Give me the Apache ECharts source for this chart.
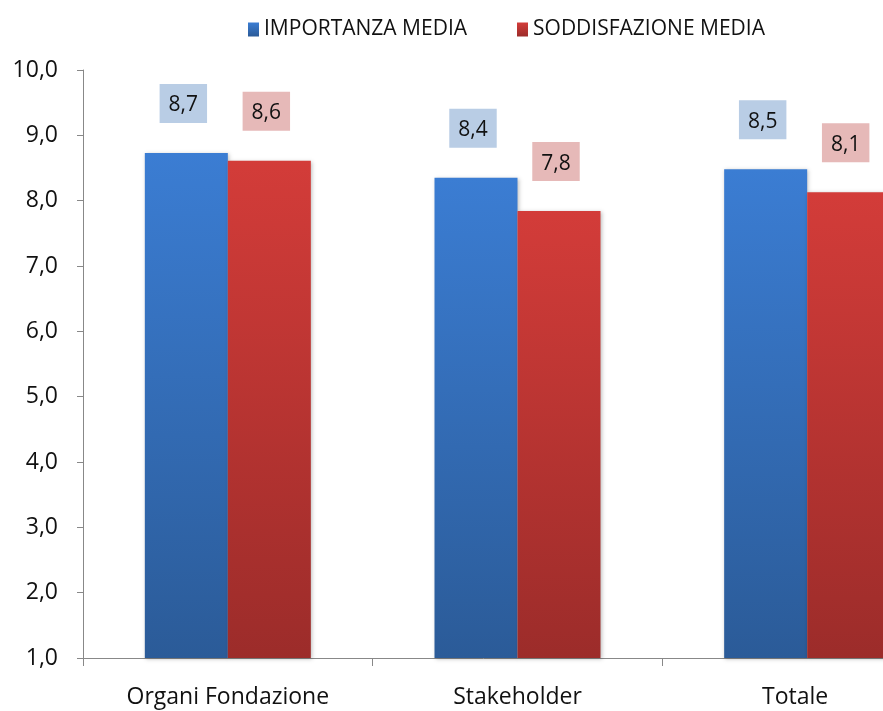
<!DOCTYPE html>
<html>
<head>
<meta charset="utf-8">
<script src="https://cdn.jsdelivr.net/npm/echarts@6/dist/echarts.min.js"></script>
<style>
  html, body { margin: 0; padding: 0; background: #fff; }
  #chart { width: 883px; height: 711px; }
</style>
</head>
<body>
<div id="chart"></div>
<script>
  var categories = ['Organi Fondazione', 'Stakeholder', 'Totale'];
  var importanza = [8.73, 8.35, 8.48];
  var soddisfazione = [8.61, 7.84, 8.13];
  var importanzaLabels = ['8,7', '8,4', '8,5'];
  var soddisfazioneLabels = ['8,6', '7,8', '8,1'];
  var yTicks = [1, 2, 3, 4, 5, 6, 7, 8, 9, 10];

  var font = '"Open Sans", "Noto Sans", sans-serif';

  function grad(top, bottom) {
    return new echarts.graphic.LinearGradient(0, 0, 0, 1, [
      { offset: 0, color: top },
      { offset: 1, color: bottom }
    ]);
  }

  function labelFor(texts, bg) {
    return {
      show: true,
      position: 'top',
      distance: 30,
      offset: [-3, 0],
      formatter: function (p) { return texts[p.dataIndex]; },
      backgroundColor: bg,
      padding: [11, 9, 7, 9],
      fontFamily: font,
      fontSize: 21,
      color: '#111'
    };
  }

  var chart = echarts.init(document.getElementById('chart'));
  chart.setOption({
    animation: false,
    legend: {
      top: 14,
      left: 243,
      itemWidth: 11,
      itemHeight: 14,
      itemGap: 50,
      icon: 'rect',
      textStyle: { fontFamily: font, fontSize: 21, color: '#111' },
      data: ['IMPORTANZA MEDIA', 'SODDISFAZIONE MEDIA']
    },
    grid: { left: 83, top: 70, height: 588, width: 869, outerBoundsMode: 'none' },
    xAxis: {
      type: 'category',
      data: categories,
      axisLine: { lineStyle: { color: '#888' } },
      axisTick: { show: true, length: 8, lineStyle: { color: '#888' } },
      axisLabel: {
        fontFamily: font, fontSize: 23, color: '#111', margin: 28,
        formatter: function (v, i) {
          // the last label is pulled back inside the clipped canvas, as in the original
          return i === categories.length - 1 ? '{last|' + v + '}' : v;
        },
        rich: { last: { fontFamily: font, fontSize: 23, color: '#111', padding: [0, 24, 0, 0] } }
      }
    },
    yAxis: {
      type: 'value',
      min: yTicks[0],
      max: yTicks[yTicks.length - 1],
      interval: 1,
      splitLine: { show: false },
      axisLine: { show: true, lineStyle: { color: '#888' } },
      axisTick: { show: true, length: 6, lineStyle: { color: '#888' } },
      axisLabel: {
        fontFamily: font, fontSize: 23, color: '#111', margin: 25,
        formatter: function (v) { return v.toFixed(1).replace('.', ','); }
      }
    },
    series: [
      {
        name: 'IMPORTANZA MEDIA',
        type: 'bar',
        data: importanza,
        barWidth: 83,
        barGap: '0%',
        itemStyle: {
          color: grad('#3b7dd3', '#2b5b98'),
          shadowColor: 'rgba(0,0,0,0.25)', shadowBlur: 4, shadowOffsetX: 1, shadowOffsetY: 1
        },
        label: labelFor(importanzaLabels, '#b9cde5')
      },
      {
        name: 'SODDISFAZIONE MEDIA',
        type: 'bar',
        data: soddisfazione,
        barWidth: 83,
        itemStyle: {
          color: grad('#d33c39', '#9c2c2a'),
          shadowColor: 'rgba(0,0,0,0.25)', shadowBlur: 4, shadowOffsetX: 1, shadowOffsetY: 1
        },
        label: labelFor(soddisfazioneLabels, '#e6b9b8')
      }
    ]
  });
</script>
</body>
</html>
